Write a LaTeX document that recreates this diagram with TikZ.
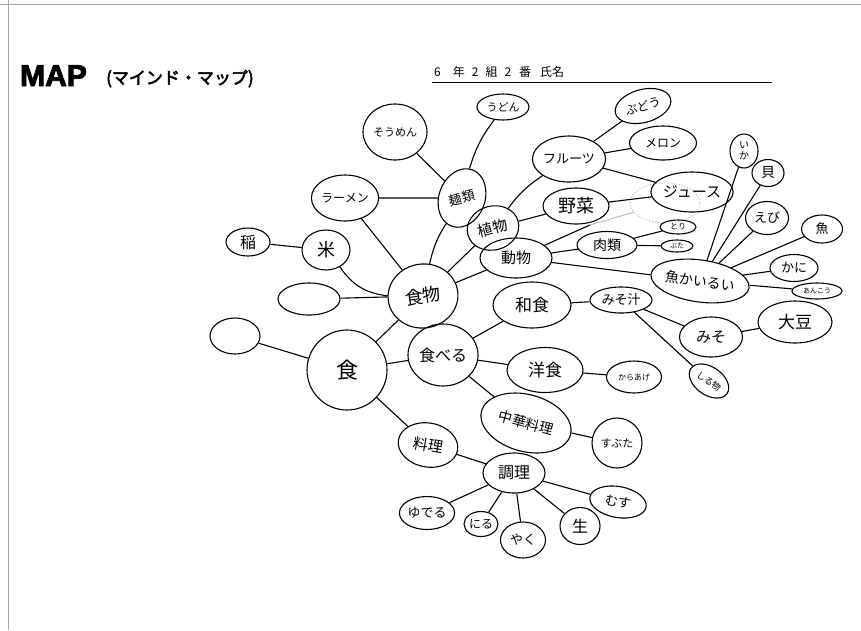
\documentclass[tikz,border=0pt]{standalone}
\usepackage{fontspec}
\usetikzlibrary{shapes.geometric}
\newfontfamily\jp{Noto Sans CJK JP}
\newfontfamily\jpb{Noto Sans CJK JP}[FakeBold=3]
\newfontfamily\lsans{Liberation Sans}[BoldFeatures={FakeBold=3}]
\begin{document}
\begin{tikzpicture}[x=1pt,y=-1pt,
  bub/.style={draw, ellipse, line width=1.1pt, inner sep=0pt, align=center, font=\jp\fontsize{15}{15}\selectfont},
  fz/.style={font=\jp\fontsize{#1}{#1}\selectfont},
  link/.style={line width=1.1pt},
  faintlink/.style={line width=0.8pt, gray!60}]
\useasboundingbox (0,0) rectangle (861,630);
\fill[white] (0,0) rectangle (861,630);
% page border
\draw[gray!70, line width=0.8pt] (0,4) -- (861,4);
\draw[gray!70, line width=0.8pt] (8,0) -- (8,630);
% title
\node[anchor=base west, inner sep=0pt, font=\lsans\bfseries\fontsize{30}{30}\selectfont] (ttl) at (20,86) {MAP};
\node[anchor=base west, inner sep=0pt, font=\jpb\fontsize{17}{17}\selectfont] (ttl2) at (106,84) {(マインド・マップ)};
% header
\node[anchor=base west, inner sep=0pt, font=\jp\fontsize{12}{12}\selectfont] (hdr) at (434,76)
  {6\hspace{12pt}年\hspace{7pt}2\hspace{7pt}組\hspace{7pt}2\hspace{8pt}番\hspace{9pt}氏名};
\draw[line width=0.9pt] (432,82) -- (772,82);

% nodes
\node[bub, minimum width=80pt, minimum height=80pt, fz=22] (shoku) at (347,370) {食};
\node[bub, minimum width=70pt, minimum height=64pt, fz=18, rotate=8] (shokumotsu) at (423,296) {食物};
\node[bub, minimum width=70pt, minimum height=62pt, fz=16] (taberu) at (443,355) {食べる};
\node[bub, minimum width=62pt, minimum height=32pt] (emp1) at (309,299) {};
\node[bub, minimum width=50pt, minimum height=36pt] (emp2) at (235,336) {};
\node[bub, minimum width=48pt, minimum height=40pt, fz=18] (kome) at (326,250) {米};
\node[bub, minimum width=44pt, minimum height=28pt, fz=16] (ine) at (248,242) {稲};
\node[bub, minimum width=60pt, minimum height=46pt, fz=12] (ramen) at (345,198) {ラーメン};
\node[bub, minimum width=60pt, minimum height=46pt, fz=13, rotate=70] (menrui) at (462,198) {\rotatebox{-55}{麺類}};
\node[bub, minimum width=64pt, minimum height=56pt, fz=11] (somen) at (395,132) {そうめん};
\node[bub, minimum width=52pt, minimum height=26pt, fz=11] (udon) at (503,107) {うどん};
\node[bub, minimum width=52pt, minimum height=44pt, fz=15, rotate=15] (shokubutsu) at (493,228) {植物};
\node[bub, minimum width=72pt, minimum height=40pt, fz=15] (doubutsu) at (516,258) {動物};
\node[bub, minimum width=66pt, minimum height=36pt, fz=18] (yasai) at (576,206) {野菜};
\node[bub, minimum width=66pt, minimum height=46pt, fz=13] (fruits) at (569,159) {フルーツ};
\node[bub, minimum width=57pt, minimum height=33pt, fz=12, rotate=15] (budou) at (643,106) {ぶどう};
\node[bub, minimum width=67pt, minimum height=34pt, fz=12] (melon) at (663,143) {メロン};
\node[draw=gray!60, dotted, ellipse, line width=0.9pt, minimum width=70pt, minimum height=40pt, inner sep=0pt] (faint) at (665,203) {};
\node[bub, minimum width=66pt, minimum height=40pt, fz=15] (juice) at (692,192) {ジュース};
\node[bub, minimum width=60pt, minimum height=27pt, fz=14] (nikurui) at (607,245) {肉類};
\node[bub, minimum width=36pt, minimum height=14pt, fz=8] (tori) at (678,227) {とり};
\node[bub, minimum width=32pt, minimum height=12pt, fz=7] (buta) at (677,246) {ぶた};
\node[bub, minimum width=84pt, minimum height=42pt, fz=14, rotate=-8] (gyokai) at (700,281) {魚かいるい};
\node[bub, minimum width=28pt, minimum height=34pt, fz=10] (ika) at (744,151) {い\\[1pt]か};
\node[bub, minimum width=32pt, minimum height=27pt, fz=14] (kai) at (768,173) {貝};
\node[bub, minimum width=43pt, minimum height=33pt, fz=13] (ebi) at (767,218) {えび};
\node[bub, minimum width=41pt, minimum height=28pt, fz=13] (sakana) at (822,229) {魚};
\node[bub, minimum width=48pt, minimum height=27pt, fz=13] (kani) at (794,268) {かに};
\node[bub, minimum width=50pt, minimum height=16pt, fz=7] (ankou) at (817,291) {あんこう};
\node[bub, minimum width=78pt, minimum height=46pt, fz=17] (washoku) at (532,305) {和食};
\node[bub, minimum width=62pt, minimum height=26pt, fz=13] (misoshiru) at (621,300) {みそ汁};
\node[bub, minimum width=63pt, minimum height=40pt, fz=15] (miso) at (711,337) {みそ};
\node[bub, minimum width=74pt, minimum height=42pt, fz=17] (daizu) at (795,322) {大豆};
\node[bub, minimum width=44pt, minimum height=28pt, fz=9, rotate=-35] (shirumono) at (709,381) {しる物};
\node[bub, minimum width=76pt, minimum height=45pt, fz=17] (youshoku) at (545,370) {洋食};
\node[bub, minimum width=55pt, minimum height=32pt, fz=8] (karaage) at (634,377) {からあげ};
\node[bub, minimum width=92pt, minimum height=57pt, fz=14, rotate=-15] (chuka) at (526,423) {中華料理};
\node[bub, minimum width=50pt, minimum height=50pt, fz=11] (subuta) at (617,443) {すぶた};
\node[bub, minimum width=60pt, minimum height=44pt, fz=15, rotate=-10] (ryouri) at (428,445) {料理};
\node[bub, minimum width=62pt, minimum height=40pt, fz=16] (chouri) at (514,473) {調理};
\node[bub, minimum width=53pt, minimum height=33pt, fz=13] (yuderu) at (427,513) {ゆでる};
\node[bub, minimum width=32pt, minimum height=25pt, fz=12] (niru) at (481,524) {にる};
\node[bub, minimum width=45pt, minimum height=36pt, fz=13] (yaku) at (523,540) {やく};
\node[bub, minimum width=40pt, minimum height=37pt, fz=16] (nama) at (580,526) {生};
\node[bub, minimum width=57pt, minimum height=31pt, fz=13, rotate=-10] (musu) at (618,502) {むす};
\coordinate (fmid) at (590,225);

% connectors
\draw[link] (shoku) -- (shokumotsu);
\draw[link] (shoku) -- (taberu);
\draw[link] (shoku) -- (ryouri);
\draw[link] (shoku) -- (emp2);
\draw[link] (shokumotsu) -- (emp1);
\draw[link] (kome) to[bend right=25] (shokumotsu);
\draw[link] (kome) -- (ine);
\draw[link] (shokumotsu) -- (ramen);
\draw[link] (shokumotsu) to[bend left=10] (menrui);
\draw[link] (menrui) -- (ramen);
\draw[link] (menrui) -- (somen);
\draw[link] (menrui) to[bend left=10] (udon);
\draw[link] (shokumotsu) -- (shokubutsu);
\draw[link] (shokumotsu) -- (doubutsu);
\draw[link] (shokumotsu) -- (taberu);
\draw[link] (shokubutsu) to[bend left=10] (fruits);
\draw[link] (shokubutsu) -- (yasai);
\draw[link] (fruits) -- (budou);
\draw[link] (fruits) -- (melon);
\draw[link] (fruits) -- (juice);
\draw[link] (yasai) -- (juice);
\draw[link] (doubutsu) -- (fmid);
\draw[faintlink] (fmid) -- (faint);
\draw[link] (doubutsu) -- (nikurui);
\draw[link] (nikurui) -- (tori);
\draw[link] (nikurui) -- (buta);
\draw[link] (doubutsu) -- (gyokai);
\draw[link] (gyokai) -- (ika);
\draw[link] (gyokai) -- (kai);
\draw[link] (gyokai) -- (ebi);
\draw[link] (gyokai) -- (sakana);
\draw[link] (gyokai) -- (kani);
\draw[link] (gyokai) -- (ankou);
\draw[link] (taberu) -- (washoku);
\draw[link] (taberu) -- (youshoku);
\draw[link] (taberu) -- (chuka);
\draw[link] (washoku) -- (misoshiru);
\draw[link] (misoshiru) -- (miso);
\draw[link] (miso) -- (daizu);
\draw[link] (misoshiru) -- (shirumono);
\draw[link] (youshoku) -- (karaage);
\draw[link] (chuka) -- (subuta);
\draw[link] (ryouri) -- (chouri);
\draw[link] (chouri) -- (yuderu);
\draw[link] (chouri) -- (niru);
\draw[link] (chouri) -- (yaku);
\draw[link] (chouri) -- (nama);
\draw[link] (chouri) -- (musu);
\end{tikzpicture}
\end{document}
